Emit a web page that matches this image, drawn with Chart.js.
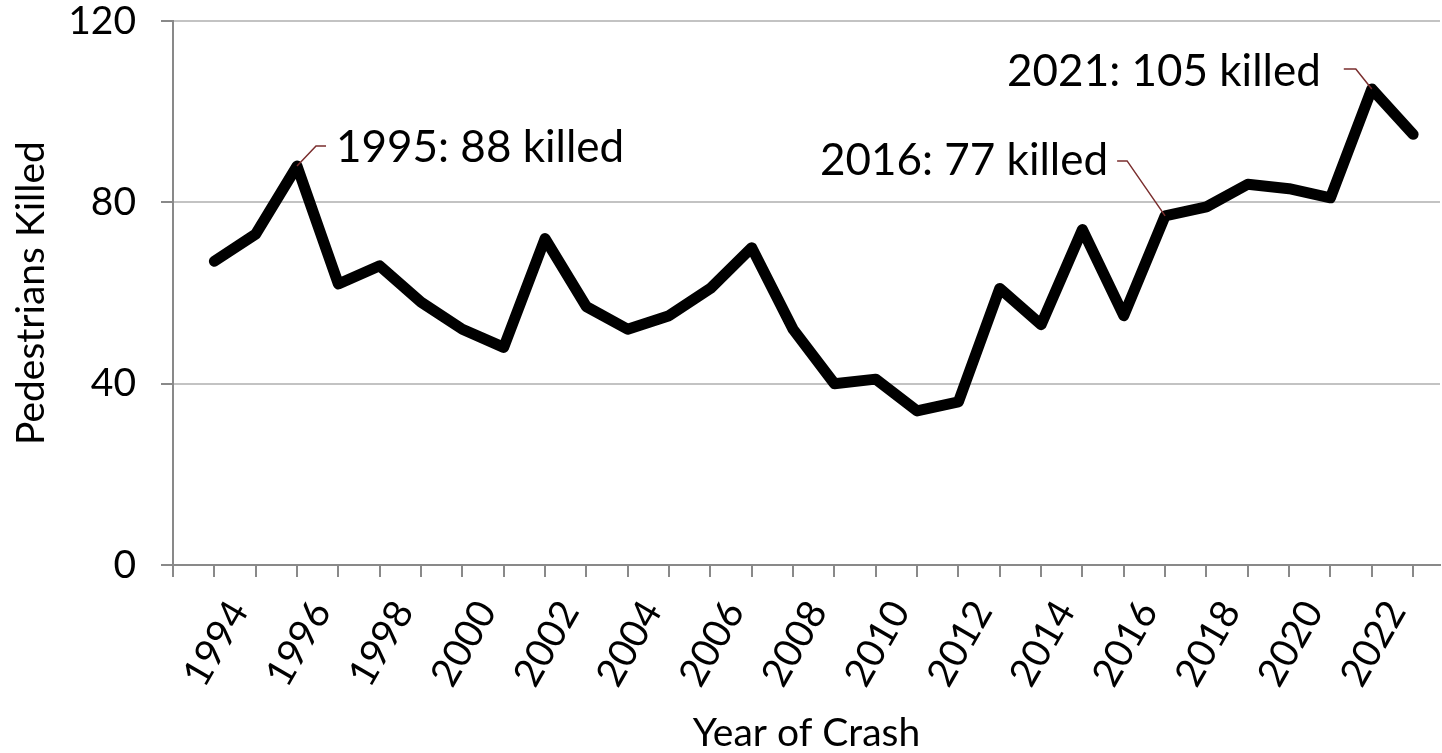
<!DOCTYPE html>
<html>
<head>
<meta charset="utf-8">
<script src="https://cdn.jsdelivr.net/npm/chart.js@4"></script>
<style>
  body { margin: 0; background: #fff; }
</style>
</head>
<body>
<canvas id="chart" width="1442" height="753"></canvas>
<script>
const years = [
  1993, 1994, 1995, 1996, 1997, 1998, 1999, 2000, 2001, 2002,
  2003, 2004, 2005, 2006, 2007, 2008, 2009, 2010, 2011, 2012,
  2013, 2014, 2015, 2016, 2017, 2018, 2019, 2020, 2021, 2022
];
const killed = [
  67, 73, 88, 62, 66, 58, 52, 48, 72, 57,
  52, 55, 61, 70, 52, 40, 41, 34, 36, 61,
  53, 74, 55, 77, 79, 84, 83, 81, 105, 95
];
const yTicks = [0, 40, 80, 120];
const noteYears = [1995, 2016, 2021];

const font = "Lato, 'Open Sans', sans-serif";
const axisGray = "#898989";
const gridGray = "#c3c3c3";
const leaderColor = "#7a2e2e";

// label position / leader shape for each callout, relative to its point
const noteStyle = {
  1995: { leader: [[19, -20], [29, -20]], tx: 39, ty: -18, align: "left" },
  2016: { leader: [[-38, -55], [-48, -55]], tx: -57, ty: -55, align: "right" },
  2021: { leader: [[-16, -20], [-28, -20]], tx: -51, ty: -17, align: "right" },
};

const callouts = {
  id: "callouts",
  afterDatasetsDraw(chart) {
    const ctx = chart.ctx;
    const xs = chart.scales.x;
    const ys = chart.scales.y;
    ctx.save();
    noteYears.forEach((yr) => {
      const i = years.indexOf(yr);
      const px = xs.getPixelForValue(yr);
      const py = ys.getPixelForValue(killed[i]);
      const s = noteStyle[yr];
      ctx.strokeStyle = leaderColor;
      ctx.lineWidth = 1.5;
      ctx.beginPath();
      ctx.moveTo(px, py);
      s.leader.forEach((p) => ctx.lineTo(px + p[0], py + p[1]));
      ctx.stroke();
      ctx.fillStyle = "#000";
      ctx.font = "44px " + font;
      ctx.textAlign = s.align;
      ctx.textBaseline = "middle";
      ctx.fillText(yr + ": " + killed[i] + " killed", px + s.tx, py + s.ty);
    });
    ctx.restore();
  },
};

new Chart(document.getElementById("chart"), {
  type: "line",
  data: {
    datasets: [
      {
        data: years.map((y, i) => ({ x: y, y: killed[i] })),
        borderColor: "#000",
        borderWidth: 11,
        borderJoinStyle: "round",
        borderCapStyle: "round",
        pointRadius: 0,
        tension: 0,
        fill: false,
      },
    ],
  },
  options: {
    responsive: false,
    animation: false,
    layout: { padding: { top: 21, right: 2, left: 0, bottom: 0 } },
    plugins: {
      legend: { display: false },
      tooltip: { enabled: false },
    },
    scales: {
      x: {
        type: "linear",
        min: 1992,
        max: 2022.65,
        grid: {
          drawOnChartArea: false,
          drawTicks: true,
          tickLength: 12,
          color: axisGray,
          lineWidth: 2,
        },
        border: { color: axisGray, width: 2 },
        ticks: {
          stepSize: 1,
          includeBounds: false,
          autoSkip: false,
          minRotation: 60,
          maxRotation: 60,
          padding: 16,
          labelOffset: -17,
          color: "#000",
          font: { family: font, size: 39 },
          callback: (v) => (v >= 1994 && v % 2 === 0 ? String(v) : ""),
        },
        title: {
          display: true,
          text: "Year of Crash",
          color: "#000",
          font: { family: font, size: 39, lineHeight: 1 },
          padding: { top: 14, bottom: 0 },
        },
        afterFit: (scale) => {
          scale.height = 188;
          scale.paddingLeft = 0;
          scale.paddingRight = 0;
          scale.paddingTop = 0;
        },
      },
      y: {
        min: 0,
        max: 120,
        afterBuildTicks: (scale) => { scale.ticks = yTicks.map((v) => ({ value: v })); },
        grid: {
          color: (c) => (c.tick && c.tick.value === 0 ? axisGray : gridGray),
          lineWidth: 2,
          tickColor: axisGray,
          tickLength: 12,
        },
        border: { color: axisGray, width: 2 },
        ticks: {
          padding: 25,
          color: "#000",
          font: { family: font, size: 39 },
        },
        title: {
          display: true,
          text: "Pedestrians Killed",
          color: "#000",
          font: { family: font, size: 39 },
          padding: { top: 8, bottom: 2 },
        },
        afterFit: (scale) => {
          scale.width = 173;
          scale.paddingTop = 0;
          scale.paddingBottom = 0;
        },
      },
    },
  },
  plugins: [callouts],
});
</script>
</body>
</html>
